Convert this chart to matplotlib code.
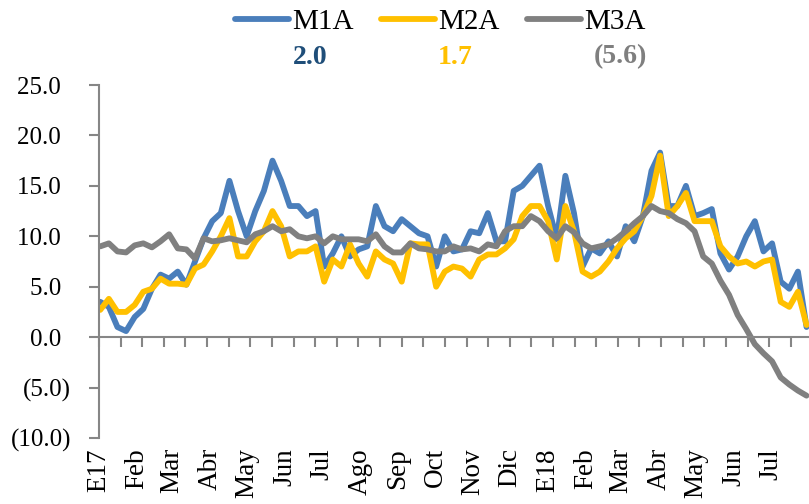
import matplotlib
matplotlib.use("Agg")
import matplotlib.pyplot as plt
import numpy as np
import pandas as pd
from matplotlib.ticker import FuncFormatter, FixedLocator

plt.rcParams['font.family'] = ['Liberation Serif', 'DejaVu Serif']

# ---- data (weekly readings, Jan 2017 - Jul 2018) ----
start_date = "2017-01-02"
m1a = [3.5, 3.0, 1.0, 0.6, 2.0, 2.8, 4.8, 6.2, 5.8, 6.5, 5.2, 7.5, 9.8, 11.5, 12.3, 15.5,
       12.5, 10.0, 12.5, 14.5, 17.5, 15.5, 13.0, 13.0, 12.0, 12.5, 7.0, 8.3, 10.0, 8.0, 8.7, 9.0,
       13.0, 11.0, 10.5, 11.7, 11.0, 10.3, 10.0, 7.0, 10.0, 8.5, 8.7, 10.5, 10.3, 12.3, 9.5, 9.5,
       14.5, 15.0, 16.0, 17.0, 13.0, 9.7, 16.0, 12.3, 7.0, 8.8, 8.3, 9.5, 8.0, 11.0, 9.5, 12.0,
       16.5, 18.3, 13.0, 13.0, 15.0, 12.0, 12.3, 12.7, 8.3, 6.7, 8.0, 10.0, 11.5, 8.5, 9.3, 5.5,
       4.8, 6.5, 1.0]
m2a = [2.7, 3.8, 2.5, 2.5, 3.2, 4.5, 4.8, 5.8, 5.3, 5.3, 5.2, 6.8, 7.2, 8.5, 10.0, 11.8,
       8.0, 8.0, 9.5, 10.5, 12.5, 11.0, 8.0, 8.5, 8.5, 9.0, 5.5, 7.7, 7.0, 9.2, 7.3, 6.0,
       8.5, 7.7, 7.3, 5.5, 9.3, 9.2, 9.2, 5.0, 6.5, 7.0, 6.8, 6.0, 7.7, 8.2, 8.2, 8.8,
       9.7, 12.0, 13.0, 13.0, 11.5, 7.7, 13.0, 10.5, 6.5, 6.0, 6.5, 7.5, 8.8, 9.8, 10.5, 12.0,
       14.0, 18.0, 12.0, 13.0, 14.3, 11.5, 11.5, 11.5, 9.0, 8.0, 7.3, 7.5, 7.0, 7.5, 7.7, 3.5,
       3.0, 4.5, 1.2]
m3a = [9.0, 9.3, 8.5, 8.4, 9.1, 9.3, 8.9, 9.5, 10.2, 8.8, 8.7, 7.8, 9.8, 9.5, 9.6, 9.8,
       9.6, 9.4, 10.2, 10.5, 11.0, 10.5, 10.7, 10.0, 9.8, 10.0, 9.3, 10.0, 9.7, 9.7, 9.7, 9.5,
       10.2, 9.0, 8.4, 8.4, 9.3, 8.8, 8.7, 8.5, 8.5, 9.0, 8.7, 8.8, 8.5, 9.2, 9.0, 10.5,
       11.0, 11.0, 12.0, 11.5, 10.5, 9.8, 11.0, 10.4, 9.3, 8.8, 9.0, 9.2, 9.8, 10.5, 11.3, 12.0,
       13.0, 12.5, 12.3, 11.7, 11.3, 10.5, 8.0, 7.3, 5.6, 4.2, 2.2, 0.8, -0.7, -1.6, -2.4, -4.0,
       -4.7, -5.3, -5.8]
series_names = ["M1A", "M2A", "M3A"]
latest_values = ["2.0", "1.7", "(5.6)"]
month_labels = ["E17", "Feb", "Mar", "Abr", "May", "Jun", "Jul", "Ago", "Sep", "Oct", "Nov",
                "Dic", "E18", "Feb", "Mar", "Abr", "May", "Jun", "Jul"]

colors = ["#4A7EBB", "#FFC000", "#808080"]
value_colors = ["#1F4E79", "#FFC000", "#7F7F7F"]
axis_gray = "#868686"

dates = pd.date_range(start_date, periods=len(m1a), freq="7D")
months = pd.date_range("2017-01-01", periods=len(month_labels), freq="MS")
x0 = pd.Timestamp("2017-01-01")
x1 = pd.Timestamp("2018-08-01")

fig = plt.figure(figsize=(8.09, 5.04), dpi=100)
ax = fig.add_axes([99 / 809, 66 / 504, 1 - 99 / 809, (438 - 85) / 504])

lines = []
for vals, c, name in zip([m1a, m2a, m3a], colors, series_names):
    ln, = ax.plot(dates, vals, color=c, lw=4.2, solid_capstyle='round',
                  solid_joinstyle='round', label=name)
    lines.append(ln)

ax.set_xlim(x0, x1)
ax.set_ylim(-10, 25)

# y axis
ax.set_yticks(np.arange(-10, 26, 5))
ax.yaxis.set_major_formatter(FuncFormatter(
    lambda v, p: f"({abs(v):.1f})" if v < 0 else f"{v:.1f}\u2009\u2009"))
ax.tick_params(axis='y', direction='out', length=7, width=1.5, color=axis_gray,
               labelsize=18, pad=13)

# x axis: spine at zero with tick marks, month labels at bottom
ax.spines['bottom'].set_position(('data', 0))
for s in ['top', 'right']:
    ax.spines[s].set_visible(False)
for s in ['left', 'bottom']:
    ax.spines[s].set_color(axis_gray)
    ax.spines[s].set_linewidth(1.5)

tick_days = np.arange(0, 578, 17.57)
tick_pos = [matplotlib.dates.date2num(x0 + pd.Timedelta(days=float(d))) for d in tick_days]
ax.xaxis.set_major_locator(FixedLocator(tick_pos))
ax.tick_params(axis='x', direction='out', length=7, width=1.5, color=axis_gray,
               labelbottom=False)

for m, lab in zip(months, month_labels):
    ax.annotate(lab, xy=(m, 0), xycoords=('data', 'axes fraction'),
                xytext=(0, -10), textcoords='offset pixels',
                rotation=90, ha='center', va='top', fontsize=19.5)

# legend
fig.legend(handles=lines, labels=series_names, loc='center',
           bbox_to_anchor=(440 / 809, 1 - 22 / 504), ncol=3, frameon=False,
           fontsize=21, handlelength=1.85, handletextpad=0.1, columnspacing=0.95,
           borderpad=0)
for val, c, xp in zip(latest_values, value_colors, [310, 455, 620]):
    fig.text(xp / 809, 1 - 57 / 504, val, color=c, fontsize=20, fontweight='bold',
             ha='center', va='center')

fig.savefig("out.png", dpi=100)
